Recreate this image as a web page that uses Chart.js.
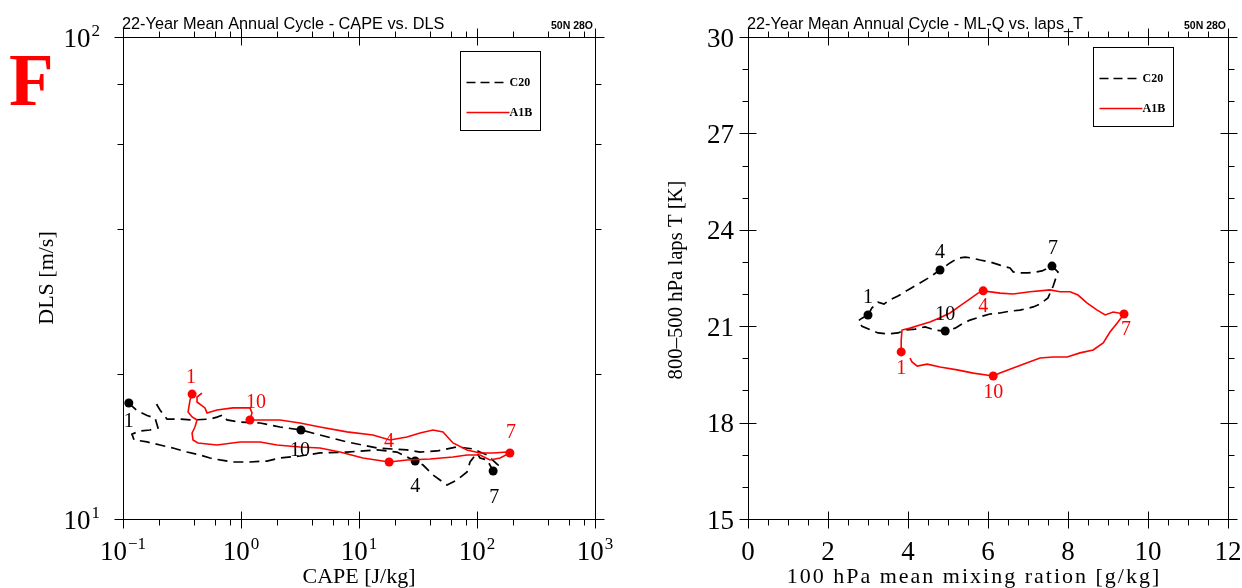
<!DOCTYPE html>
<html>
<head>
<meta charset="utf-8">
<title>22-Year Mean Annual Cycle</title>
<script src="https://cdn.jsdelivr.net/npm/chart.js@4.4.1/dist/chart.umd.min.js"></script>
<style>
html,body{margin:0;padding:0;background:#ffffff;overflow:hidden;}
#wrap{position:relative;width:1242px;height:588px;background:#fff;}
canvas{position:absolute;top:0;}
</style>
</head>
<body>
<div id="wrap">
<canvas id="left" width="621" height="588" style="left:0"></canvas>
<canvas id="right" width="621" height="588" style="left:621px"></canvas>
</div>
<script>
// ---------- data ----------
// left panel: CAPE [J/kg] vs DLS [m/s]
const c20Cape = [0.112,0.131,0.160,0.187,0.198,0.169,0.139,0.119,0.124,0.160,0.206,0.265,0.349,0.449,0.546,0.664,0.855,1.19,1.66,2.14,3.16,4.67,7.90,14.2,21.0,29.9,34.9,42.4,55.7,67.7,82.3,87.3,100,106,122,137,151,122,106,92.5,67.7,45.8,32.9,25.5,14.2,7.90,4.67,3.22,2.14,1.45,0.982,0.760,0.703,0.626,0.546,0.392,0.304,0.236,0.206,0.194,0.214];
const c20Dls  = [17.4,16.8,16.4,16.2,15.45,15.3,15.23,15.0,14.6,14.45,14.24,14.04,13.77,13.58,13.38,13.26,13.13,13.13,13.19,13.38,13.51,13.71,13.77,13.91,13.77,13.19,12.94,12.34,11.76,12.05,12.52,13.13,13.71,13.38,13.26,12.58,12.94,13.58,13.77,13.98,14.11,13.84,13.77,13.91,14.04,14.45,14.94,15.3,15.52,15.82,15.89,16.05,16.44,16.27,16.12,16.05,16.12,16.12,16.83,17.24,17.4];
const a1bCape = [0.385,0.370,0.356,0.385,0.424,0.407,0.385,0.392,0.432,0.626,0.982,1.45,2.02,3.16,4.67,6.90,10.8,18.0,25.5,40.0,62.6,82.3,106,129,157,190,180,137,106,82.3,62.6,51.5,42.4,32.9,25.5,18.3,13.1,7.90,4.67,3.16,2.14,1.19,1.24,1.19,0.855,0.626,0.515,0.495,0.424,0.424,0.467];
const a1bDls  = [18.16,17.66,16.67,16.28,16.05,15.52,15.08,14.59,14.38,14.24,14.45,14.45,14.24,14.11,14.04,13.77,13.38,13.13,13.26,13.32,13.45,13.58,13.58,13.26,13.38,13.71,13.77,13.71,13.71,13.91,14.38,15.16,15.30,15.08,14.80,14.59,14.94,15.16,15.52,15.82,16.05,16.05,16.60,17.0,17.0,16.83,16.60,17.0,17.49,17.91,18.25];
// right panel: 100 hPa mixing ratio [g/kg] vs 800-500 hPa lapse T [K]
const c20Mix  = [3.0,3.1,3.25,3.4,3.55,3.75,4.0,4.25,4.55,4.8,5.05,5.25,5.43,5.6,5.8,6.05,6.3,6.55,6.63,6.8,7.0,7.2,7.35,7.6,7.75,7.68,7.63,7.5,7.3,7.13,6.8,6.55,6.3,6.05,5.8,5.55,5.35,5.18,4.93,4.68,4.43,4.18,3.93,3.75,3.5,3.25,2.85,2.75,2.85,3.0];
const c20Laps = [21.35,21.57,21.75,21.69,21.82,21.94,22.13,22.31,22.53,22.75,22.97,23.12,23.15,23.12,23.06,23.0,22.9,22.81,22.69,22.66,22.66,22.69,22.72,22.87,22.69,22.44,22.25,21.88,21.69,21.6,21.5,21.47,21.41,21.38,21.29,21.19,21.07,20.94,20.85,20.88,20.98,20.91,20.88,20.79,20.76,20.79,21.0,21.16,21.25,21.35];
const a1bMix  = [3.83,3.83,3.85,4.05,4.3,4.55,4.8,5.05,5.3,5.55,5.75,5.88,6.3,6.63,7.05,7.55,7.8,8.05,8.25,8.48,8.73,8.93,9.13,9.4,9.25,9.05,8.88,8.63,8.3,7.98,7.63,7.3,6.98,6.63,6.3,6.13,5.63,5.23,4.8,4.48,4.23,4.1,4.05];
const a1bLaps = [20.2,20.57,20.88,20.94,21.04,21.13,21.26,21.41,21.63,21.85,22.03,22.1,22.03,22.0,22.07,22.13,22.07,22.07,21.97,21.72,21.5,21.35,21.44,21.38,21.13,20.82,20.48,20.26,20.17,20.04,20.04,20.01,19.86,19.7,19.54,19.45,19.54,19.64,19.73,19.82,19.76,19.89,20.01];

// month markers (months 1, 4, 7, 10) as indices into the series
const monthNames = ['1','4','7','10'];
const c20CapeMonths = [0,25,35,47];
const a1bCapeMonths = [0,17,25,41];
const c20MixMonths  = [0,9,23,38];
const a1bMixMonths  = [0,11,23,35];

// ticks
const capeMajor = [0.1,1,10,100,1000];
const capeLabels = ['10^−1','10^0','10^1','10^2','10^3'];
const capeMinor = [0.2,0.4,0.6,0.8,2,4,6,8,20,40,60,80,200,400,600,800];
const dlsMajor = [10,100];
const dlsLabels = ['10^1','10^2'];
const dlsMinor = [20,40,60,80];
const mixMajor = [0,2,4,6,8,10,12];
const mixLabels = ['0','2','4','6','8','10','12'];
const mixMinor = [0.5,1,1.5,2.5,3,3.5,4.5,5,5.5,6.5,7,7.5,8.5,9,9.5,10.5,11,11.5];
const lapsMajor = [15,18,21,24,27,30];
const lapsLabels = ['15','18','21','24','27','30'];
const lapsMinor = [16,17,19,20,22,23,25,26,28,29];

const seriesNames = ['C20','A1B'];

// ---------- drawing helpers ----------
function drawTickLabel(ctx, text, x, base, align) {
  const parts = text.split('^');
  ctx.textBaseline = 'alphabetic';
  ctx.textAlign = 'left';
  ctx.font = '27px "Liberation Serif"';
  const wb = ctx.measureText(parts[0]).width;
  let we = 0;
  if (parts.length > 1) { ctx.font = '17px "Liberation Serif"'; we = ctx.measureText(parts[1]).width + 1; }
  const w = wb + we;
  const x0 = align === 'center' ? x - w / 2 : (align === 'right' ? x - w : x);
  ctx.font = '27px "Liberation Serif"';
  ctx.fillText(parts[0], x0, base);
  if (parts.length > 1) { ctx.font = '17px "Liberation Serif"'; ctx.fillText(parts[1], x0 + wb + 1, base - 11); }
}

const nclPlugin = {
  id: 'ncl',
  afterDraw(chart, args, o) {
    const ctx = chart.ctx, a = chart.chartArea, xs = chart.scales.x, ys = chart.scales.y;
    const L = Math.round(a.left) + 0.5, R = Math.round(a.right) + 0.5, T = Math.round(a.top) + 0.5, B = Math.round(a.bottom) + 0.5;
    const px = v => Math.round(xs.getPixelForValue(v)) + 0.5;
    const py = v => Math.round(ys.getPixelForValue(v)) + 0.5;
    ctx.save();
    ctx.strokeStyle = '#000'; ctx.lineWidth = 1; ctx.setLineDash([]);
    ctx.beginPath();
    ctx.rect(L, T, R - L, B - T);
    const IN = 8, OUT = 9, MIN = 6;
    o.xMajor.forEach(v => { const x = px(v); ctx.moveTo(x, B - IN); ctx.lineTo(x, B + OUT); ctx.moveTo(x, T + IN); ctx.lineTo(x, T - OUT); });
    o.xMinor.forEach(v => { const x = px(v); ctx.moveTo(x, B); ctx.lineTo(x, B + MIN); ctx.moveTo(x, T); ctx.lineTo(x, T - MIN); });
    o.yMajor.forEach(v => { const y = py(v); ctx.moveTo(L + IN, y); ctx.lineTo(L - OUT, y); ctx.moveTo(R - IN, y); ctx.lineTo(R + OUT, y); });
    o.yMinor.forEach(v => { const y = py(v); ctx.moveTo(L, y); ctx.lineTo(L - MIN, y); ctx.moveTo(R, y); ctx.lineTo(R + MIN, y); });
    ctx.stroke();

    ctx.fillStyle = '#000';
    o.xMajor.forEach((v, i) => drawTickLabel(ctx, o.xLabels[i], xs.getPixelForValue(v), a.bottom + 41, 'center'));
    o.yMajor.forEach((v, i) => drawTickLabel(ctx, o.yLabels[i], a.left - o.yLabelGap, ys.getPixelForValue(v) + 9.5, 'right'));

    // axis titles
    ctx.textAlign = 'center'; ctx.textBaseline = 'middle';
    ctx.font = o.xTitleFont;
    ctx.letterSpacing = o.xTitleSpacing;
    ctx.fillText(o.xTitle, (a.left + a.right) / 2 + o.xTitleShift, 577);
    ctx.font = o.yTitleFont;
    ctx.letterSpacing = o.yTitleSpacing;
    ctx.save(); ctx.translate(o.yTitleX, (a.top + a.bottom) / 2 + o.yTitleShift); ctx.rotate(-Math.PI / 2);
    ctx.fillText(o.yTitle, 0, 0); ctx.restore();
    ctx.letterSpacing = '0px';

    // plot title and location tag
    ctx.font = '16.3px "Liberation Sans"'; ctx.textAlign = 'left'; ctx.textBaseline = 'alphabetic';
    ctx.fillText(o.title, a.left - 1, 29);
    ctx.font = 'bold 10.5px "Liberation Sans"'; ctx.textAlign = 'right';
    ctx.fillText(o.tag, a.right - 2, 29);

    // legend box
    const bw = 80, bh = 79;
    const bx = Math.round(a.right - 55 - bw) + 0.5, by = Math.round(a.top + o.legendTop) + 0.5;
    ctx.lineWidth = 1; ctx.strokeStyle = '#000';
    ctx.strokeRect(bx, by, bw, bh);
    const dsC = chart.data.datasets.find(d => d.label === seriesNames[0]);
    const dsA = chart.data.datasets.find(d => d.label === seriesNames[1]);
    ctx.lineWidth = 1.5;
    ctx.setLineDash([9, 5]); ctx.strokeStyle = dsC.borderColor;
    ctx.beginPath(); ctx.moveTo(bx + 6, by + 31); ctx.lineTo(bx + 46, by + 31); ctx.stroke();
    ctx.setLineDash([]); ctx.strokeStyle = dsA.borderColor;
    ctx.beginPath(); ctx.moveTo(bx + 6, by + 61); ctx.lineTo(bx + 49, by + 61); ctx.stroke();
    ctx.fillStyle = '#000'; ctx.font = 'bold 12px "Liberation Serif"'; ctx.textAlign = 'left'; ctx.textBaseline = 'middle';
    ctx.fillText(dsC.label, bx + 49, by + 31);
    ctx.fillText(dsA.label, bx + 49, by + 61);

    if (o.panelLetter) {
      ctx.font = 'bold 73px "Liberation Serif"'; ctx.fillStyle = '#ff0000'; ctx.textAlign = 'left'; ctx.textBaseline = 'alphabetic';
      ctx.fillText(o.panelLetter, 9, 105);
    }
    ctx.restore();
  }
};

const monthPlugin = {
  id: 'months',
  afterDatasetsDraw(chart) {
    const ctx = chart.ctx;
    chart.data.datasets.forEach((ds, di) => {
      const meta = chart.getDatasetMeta(di);
      ctx.save();
      ctx.font = '20px "Liberation Serif"'; ctx.fillStyle = ds.borderColor;
      ctx.textAlign = 'center'; ctx.textBaseline = 'middle';
      ds.monthIdx.forEach((idx, k) => {
        const pt = meta.data[idx];
        const off = ds.monthOffsets[k];
        ctx.fillText(monthNames[k], pt.x + off[0], pt.y + off[1]);
      });
      ctx.restore();
    });
  }
};

function series(label, xs, ys, months, color, dash, width, offsets) {
  return {
    label,
    data: xs.map((x, i) => ({ x, y: ys[i] })),
    showLine: true,
    borderColor: color,
    backgroundColor: color,
    borderWidth: width,
    borderDash: dash,
    pointRadius: c => months.includes(c.dataIndex) ? 4.5 : 0,
    pointBorderWidth: 0,
    pointBackgroundColor: color,
    pointBorderColor: color,
    monthIdx: months,
    monthOffsets: offsets
  };
}

function makeChart(id, xType, yType, xr, yr, datasets, ncl, yW, padRight) {
  const axis = (type, r) => ({
    type, min: r[0], max: r[1],
    grid: { display: false, drawTicks: false },
    border: { display: false },
    ticks: { display: false }
  });
  const sx = axis(xType, xr); sx.afterFit = s => { s.height = 69; };
  const sy = axis(yType, yr); sy.afterFit = s => { s.width = yW; };
  return new Chart(document.getElementById(id), {
    type: 'scatter',
    data: { datasets },
    options: {
      responsive: false, animation: false, devicePixelRatio: 1, events: [],
      layout: { padding: { top: 37, right: padRight, left: 0, bottom: 0 } },
      scales: { x: sx, y: sy },
      elements: { line: { tension: 0 } },
      plugins: { legend: { display: false }, tooltip: { enabled: false }, ncl }
    },
    plugins: [nclPlugin, monthPlugin]
  });
}

makeChart('left', 'logarithmic', 'logarithmic', [0.1, 1000], [10, 100], [
  series(seriesNames[1], a1bCape, a1bDls, a1bCapeMonths, '#ff0000', [], 1.6, [[-1,-16],[0,-20],[1,-20],[6,-17]]),
  series(seriesNames[0], c20Cape, c20Dls, c20CapeMonths, '#000000', [10,6], 1.7, [[0,19],[0,26],[1,27],[-1,21]])
], {
  title: '22-Year Mean Annual Cycle - CAPE vs. DLS', tag: '50N 28O',
  xMajor: capeMajor, xLabels: capeLabels, xMinor: capeMinor,
  yMajor: dlsMajor, yLabels: dlsLabels, yMinor: dlsMinor, yLabelGap: 23,
  xTitle: 'CAPE [J/kg]', yTitle: 'DLS [m/s]',
  xTitleFont: '22px "Liberation Serif"', yTitleFont: '22px "Liberation Serif"',
  xTitleSpacing: '0px', yTitleSpacing: '0px',
  xTitleShift: 0, yTitleShift: 0, yTitleX: 47, legendTop: 14, panelLetter: 'F'
}, 123, 26);

makeChart('right', 'linear', 'linear', [0, 12], [15, 30], [
  series(seriesNames[1], a1bMix, a1bLaps, a1bMixMonths, '#ff0000', [], 1.6, [[0,17],[0,16],[2,16],[0,17]]),
  series(seriesNames[0], c20Mix, c20Laps, c20MixMonths, '#000000', [10,6], 1.7, [[0,-17],[0,-17],[1,-17],[0,-16]])
], {
  title: '22-Year Mean Annual Cycle - ML-Q vs. laps_T', tag: '50N 28O',
  xMajor: mixMajor, xLabels: mixLabels, xMinor: mixMinor,
  yMajor: lapsMajor, yLabels: lapsLabels, yMinor: lapsMinor, yLabelGap: 14,
  xTitle: '100 hPa mean mixing ration [g/kg]', yTitle: '800–500 hPa laps T [K]',
  xTitleFont: '22px "Liberation Serif"', yTitleFont: '20.7px "Liberation Serif"',
  xTitleSpacing: '2px', yTitleSpacing: '0px',
  xTitleShift: -14, yTitleShift: 2, yTitleX: 56, legendTop: 10, panelLetter: ''
}, 127, 14);
</script>
</body>
</html>
